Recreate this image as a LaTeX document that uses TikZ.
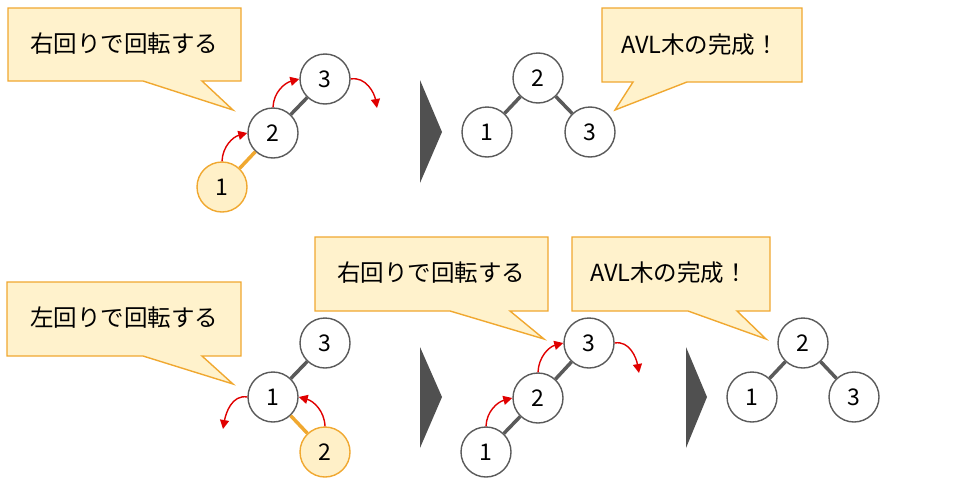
\documentclass[tikz,border=0pt]{standalone}
\usepackage{fontspec}
\setmainfont{Noto Sans CJK JP}
\usetikzlibrary{arrows.meta}
\definecolor{nodegray}{HTML}{5A5A5A}
\definecolor{chevgray}{HTML}{505050}
\definecolor{bubblefill}{HTML}{FFF2CC}
\definecolor{bubbleline}{HTML}{F0A830}
\definecolor{hotfill}{HTML}{FFF0C8}
\definecolor{turnred}{HTML}{E00000}
\tikzset{
  num/.style={circle,draw=nodegray,line width=1.4pt,fill=white,minimum size=50pt,inner sep=0pt,font=\fontsize{23}{27}\selectfont},
  hot/.style={num,draw=bubbleline,fill=hotfill},
  link/.style={draw=nodegray,line width=3.5pt},
  hotlink/.style={draw=bubbleline,line width=3.5pt},
  turn/.style={draw=turnred,line width=1.4pt,-{Triangle[length=9pt,width=9pt]}},
  bubble/.style={fill=bubblefill,draw=bubbleline,line width=1.4pt},
  say/.style={font=\fontsize{23.5}{28}\selectfont,inner sep=0pt},
  chevron/.style={fill=chevgray}
}
\begin{document}
\begin{tikzpicture}[x=1pt,y=-1pt]
\useasboundingbox (0,0) rectangle (960,482);
% speech bubbles
\draw[bubble] (8,8) -- (241,8) -- (241,81) -- (202,81) -- (233,110) -- (143,81) -- (8,81) -- cycle;
\node[say] (say1) at (124,44) {右回りで回転する};
\draw[bubble] (602,8) -- (802,8) -- (802,82) -- (687,82) -- (615,110) -- (633,82) -- (602,82) -- cycle;
\node[say] (say2) at (700,45) {AVL木の完成！};
\draw[bubble] (7,282) -- (241,282) -- (241,356) -- (202,356) -- (233,384) -- (143,356) -- (7,356) -- cycle;
\node[say] (say3) at (124,318) {左回りで回転する};
\draw[bubble] (315,237) -- (548,237) -- (548,311) -- (510,311) -- (544,339) -- (450,311) -- (315,311) -- cycle;
\node[say] (say4) at (431,273) {右回りで回転する};
\draw[bubble] (572,237) -- (770,237) -- (770,311) -- (737,311) -- (766,339) -- (688,311) -- (572,311) -- cycle;
\node[say] (say5) at (669,273) {AVL木の完成！};
% chevrons
\fill[chevron] (420,80) -- (442,132) -- (420,183) -- cycle;
\fill[chevron] (420,347) -- (442,397) -- (420,448) -- cycle;
\fill[chevron] (686,347) -- (707,397) -- (686,448) -- cycle;
% top left: before right rotation
\node[hot] (a1) at (222,187) {1};
\node[num] (a2) at (273,133) {2};
\node[num] (a3) at (325,79) {3};
\draw[hotlink] (a1) -- (a2);
\draw[link] (a2) -- (a3);
\coordinate (a3r) at (377,108);
\draw[turn] (a1.north) to[out=88,in=195] (a2.west);
\draw[turn] (a2.north) to[out=88,in=195] (a3.west);
\draw[turn] (a3.east) to[out=10,in=100] (a3r);
% top right: balanced
\node[num] (b2) at (538,78) {2};
\node[num] (b1) at (487,132) {1};
\node[num] (b3) at (590,132) {3};
\draw[link] (b2) -- (b1);
\draw[link] (b2) -- (b3);
% bottom left: before left rotation
\node[num] (c3) at (325,343) {3};
\node[num] (c1) at (273,397) {1};
\node[hot] (c2) at (325,452) {2};
\draw[link] (c1) -- (c3);
\draw[hotlink] (c1) -- (c2);
\coordinate (c1l) at (223,429);
\draw[turn] (c1.west) to[out=170,in=80] (c1l);
\draw[turn] (c2.north) to[out=92,in=-15] (c1.east);
% bottom middle: before right rotation
\node[num] (d3) at (589,343) {3};
\node[num] (d2) at (538,398) {2};
\node[num] (d1) at (486,452) {1};
\draw[link] (d1) -- (d2);
\draw[link] (d2) -- (d3);
\coordinate (d3r) at (639,373);
\draw[turn] (d1.north) to[out=88,in=195] (d2.west);
\draw[turn] (d2.north) to[out=88,in=195] (d3.west);
\draw[turn] (d3.east) to[out=10,in=100] (d3r);
% bottom right: balanced
\node[num] (e2) at (803,343) {2};
\node[num] (e1) at (752,397) {1};
\node[num] (e3) at (854,397) {3};
\draw[link] (e2) -- (e1);
\draw[link] (e2) -- (e3);
\end{tikzpicture}
\end{document}
